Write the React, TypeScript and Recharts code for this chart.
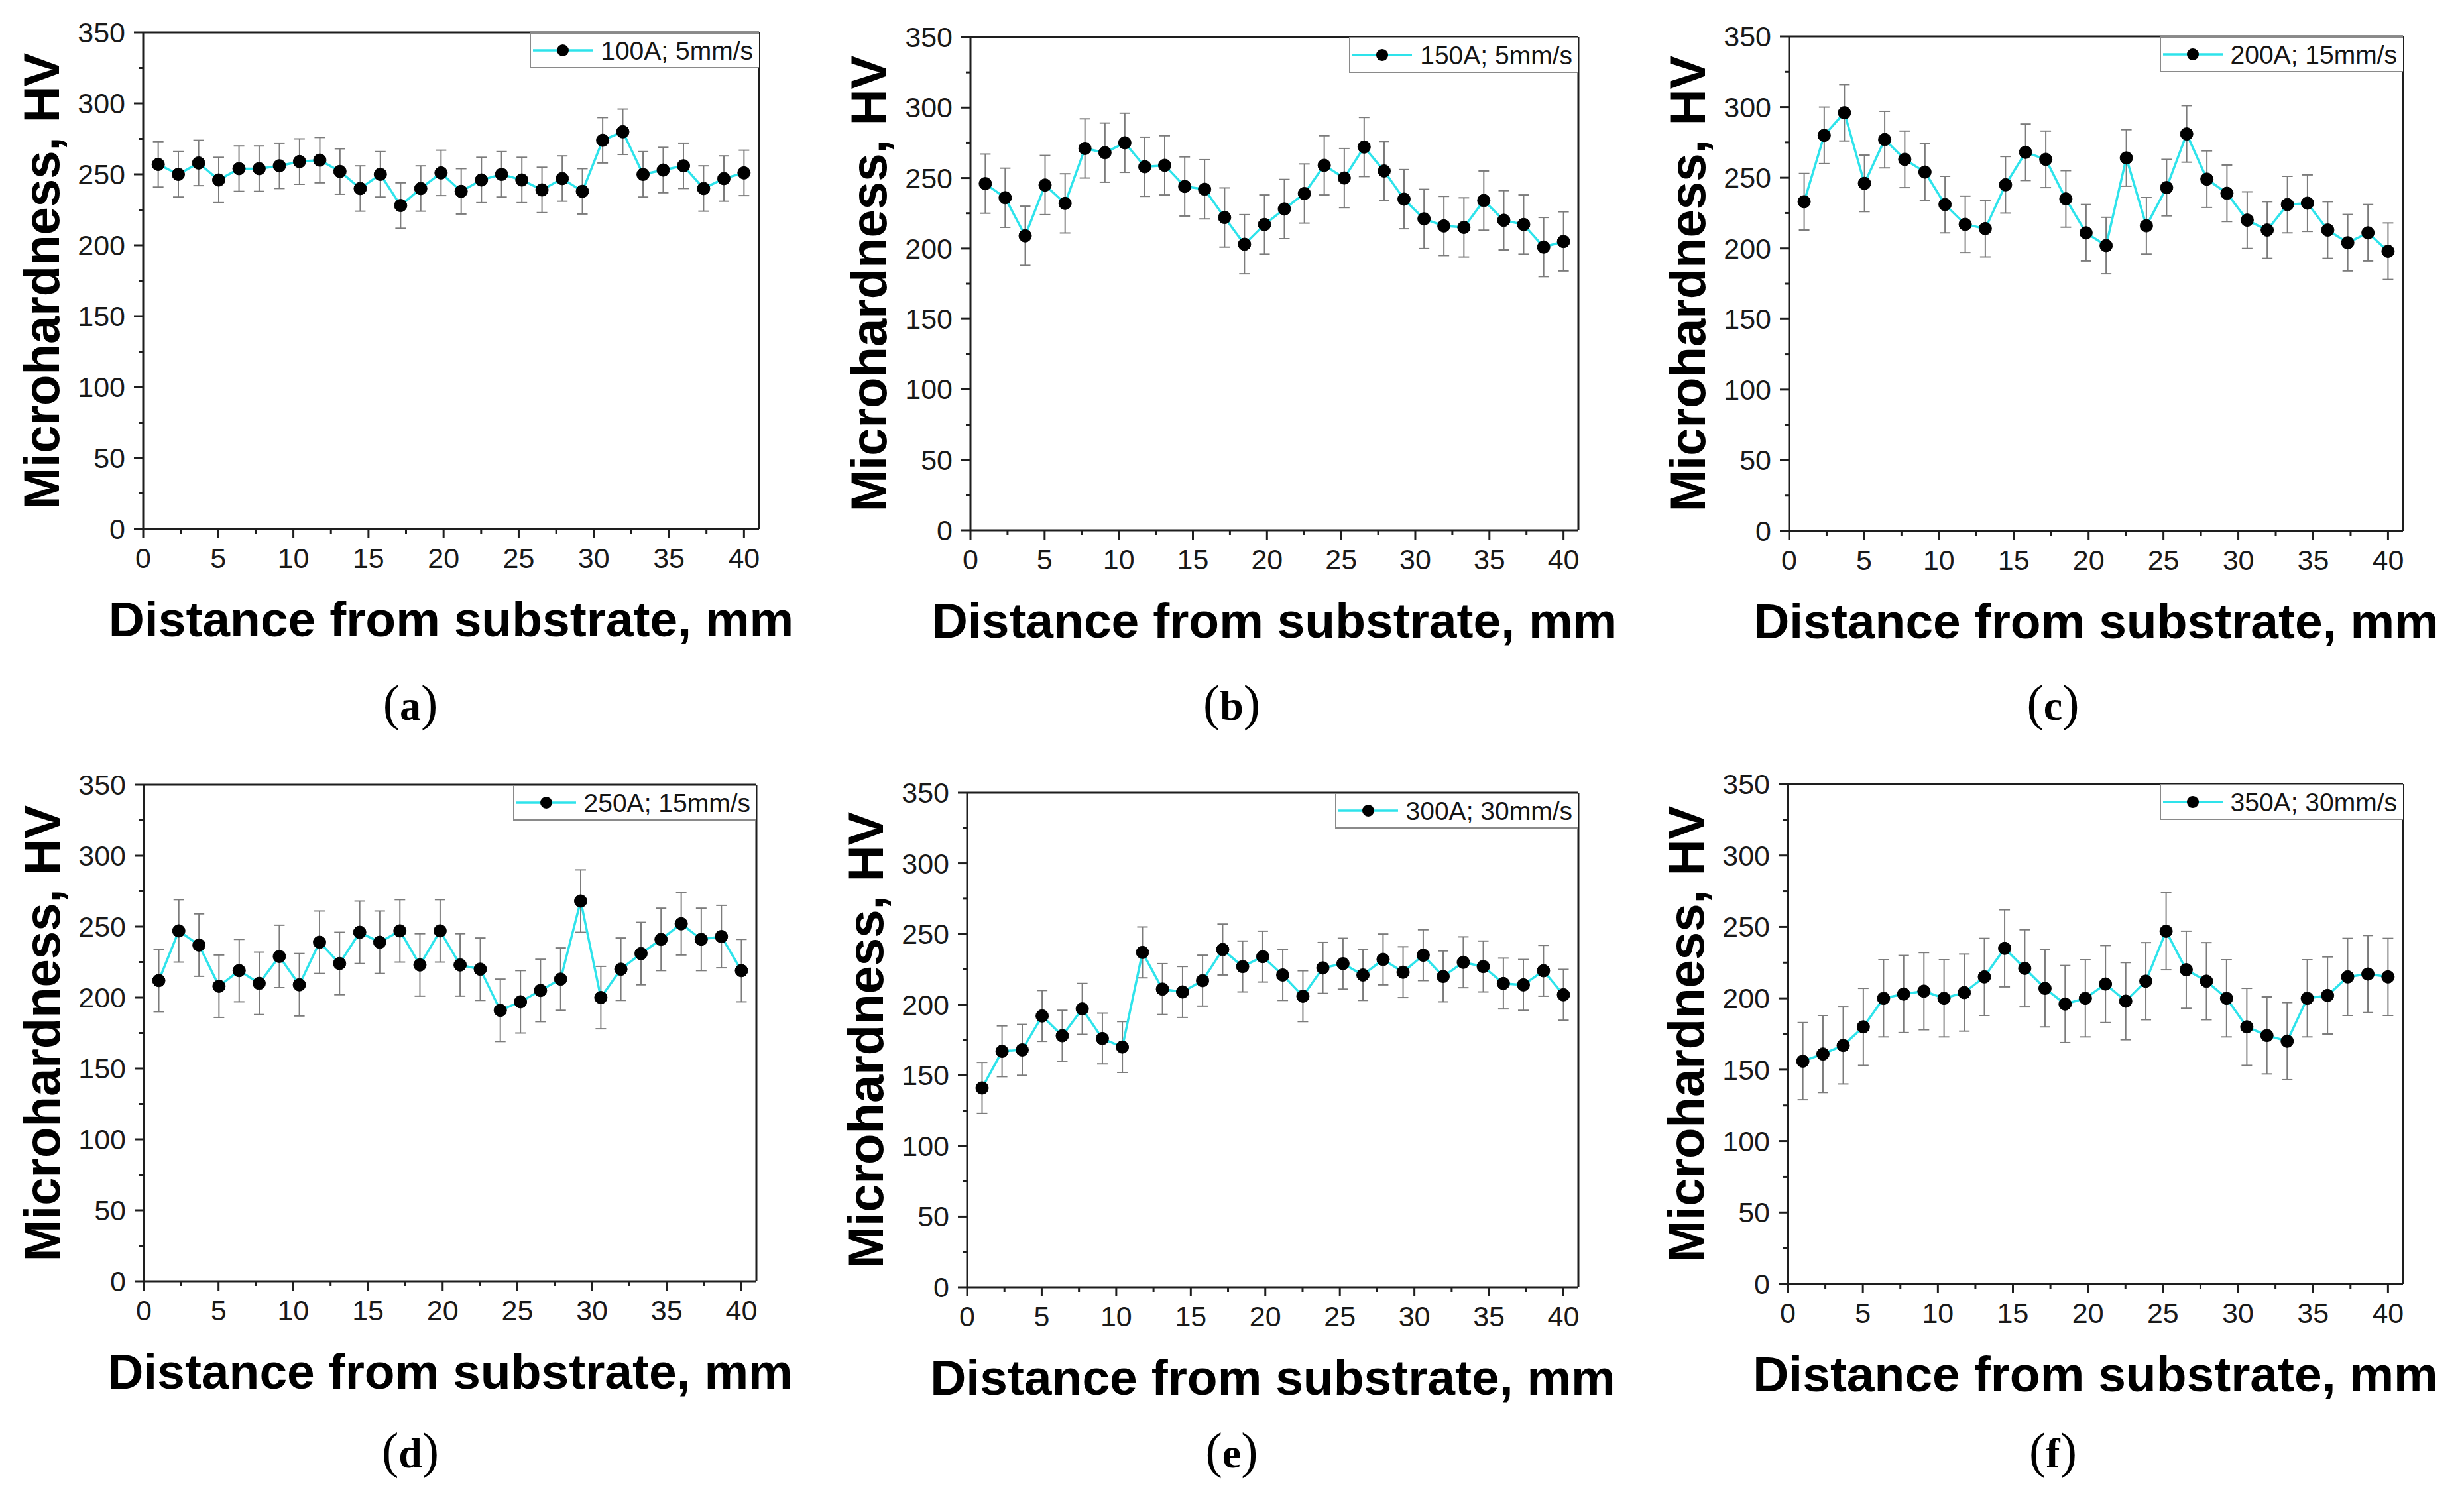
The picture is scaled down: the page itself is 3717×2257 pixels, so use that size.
import React from 'react';
import { LineChart, Line, XAxis, YAxis, ErrorBar, ReferenceLine } from 'recharts';

// distance from substrate, mm (same 30 measuring points on every sample)
const distance = [
  1, 2.34, 3.69, 5.03, 6.38, 7.72, 9.07, 10.41, 11.76, 13.1, 14.45, 15.79, 17.14, 18.48, 19.83,
  21.17, 22.52, 23.86, 25.21, 26.55, 27.9, 29.24, 30.59, 31.93, 33.28, 34.62, 35.97, 37.31, 38.66, 40,
];

// microhardness, HV
const hv100A = [257, 250, 258, 246, 254, 254, 256, 259, 260, 252, 240, 250, 228, 240, 251, 238, 246, 250, 246, 239, 247, 238, 274, 280, 250, 253, 256, 240, 247, 251];
const hv150A = [246, 236, 209, 245, 232, 271, 268, 275, 258, 259, 244, 242, 222, 203, 217, 228, 239, 259, 250, 272, 255, 235, 221, 216, 215, 234, 220, 217, 201, 205];
const hv200A = [233, 280, 296, 246, 277, 263, 254, 231, 217, 214, 245, 268, 263, 235, 211, 202, 264, 216, 243, 281, 249, 239, 220, 213, 231, 232, 213, 204, 211, 198];
const hv250A = [212, 247, 237, 208, 219, 210, 229, 209, 239, 224, 246, 239, 247, 223, 247, 223, 220, 191, 197, 205, 213, 268, 200, 220, 231, 241, 252, 241, 243, 219];
const hv300A = [141, 167, 168, 192, 178, 197, 176, 170, 237, 211, 209, 217, 239, 227, 234, 221, 206, 226, 229, 221, 232, 223, 235, 220, 230, 227, 215, 214, 224, 207];
const hv350A = [156, 161, 167, 180, 200, 203, 205, 200, 204, 215, 235, 221, 207, 196, 200, 210, 198, 212, 247, 220, 212, 200, 180, 174, 170, 200, 202, 215, 217, 215];

// error bar half-heights, HV
const err100A = 16;
const err150A = 21;
const err200A = 20;
const err250A = 22;
const err300A = 18;
const err350A = 27;

const legendNames = ['100A; 5mm/s', '150A; 5mm/s', '200A; 15mm/s', '250A; 15mm/s', '300A; 30mm/s', '350A; 30mm/s'];
const panelLetters = ['a', 'b', 'c', 'd', 'e', 'f'];

const xTicks = [0, 2.5, 5, 7.5, 10, 12.5, 15, 17.5, 20, 22.5, 25, 27.5, 30, 32.5, 35, 37.5, 40];
const yTicks = [0, 25, 50, 75, 100, 125, 150, 175, 200, 225, 250, 275, 300, 325, 350];

const series = [hv100A, hv150A, hv200A, hv250A, hv300A, hv350A];
const errors = [err100A, err150A, err200A, err250A, err300A, err350A];

// plot boxes in page pixels
const boxes = [
  { pl: 216, pr: 1145, pt: 49, pb: 798, col: 0, row: 0 },
  { pl: 1464, pr: 2381, pt: 56, pb: 800, col: 1, row: 0 },
  { pl: 2699, pr: 3625, pt: 55, pb: 801, col: 2, row: 0 },
  { pl: 217, pr: 1141, pt: 1184, pb: 1933, col: 0, row: 1 },
  { pl: 1459, pr: 2381, pt: 1196, pb: 1942, col: 1, row: 1 },
  { pl: 2697, pr: 3625, pt: 1183, pb: 1937, col: 2, row: 1 },
];
const letterBaseline = [1086, 2214];

const SANS = '"Liberation Sans", Arial, sans-serif';
const SERIF = '"Liberation Serif", "Times New Roman", serif';
const AXIS = '#1e1e1e';
const CYAN = '#2ee3eb';
const M = 150;

function XTick(props: any) {
  const { x, y, payload } = props;
  const major = payload.value % 5 === 0;
  return (
    <g>
      <line x1={x} x2={x} y1={y} y2={y + (major ? 14 : 7)} stroke={AXIS} strokeWidth={3} />
      {major && (
        <text x={x} y={y + 59} textAnchor="middle" fontFamily={SANS} fontSize={43} fill="#1a1a1a">
          {payload.value}
        </text>
      )}
    </g>
  );
}

function YTick(props: any) {
  const { x, y, payload } = props;
  const major = payload.value % 50 === 0;
  return (
    <g>
      <line x1={x - (major ? 14 : 7)} x2={x} y1={y} y2={y} stroke={AXIS} strokeWidth={3} />
      {major && (
        <text x={x - 27} y={y + 15} textAnchor="end" fontFamily={SANS} fontSize={43} fill="#1a1a1a">
          {payload.value}
        </text>
      )}
    </g>
  );
}

function Panel({ index }: { index: number }) {
  const b = boxes[index];
  const pw = b.pr - b.pl;
  const ph = b.pb - b.pt;
  const data = distance.map((x, i) => ({ x, hv: series[index][i], err: errors[index] }));
  const colCenter = b.col * 1239 + 619;

  return (
    <>
      <div style={{ position: 'absolute', left: b.pl - M, top: b.pt - M }}>
        <LineChart
          width={pw + 2 * M}
          height={ph + 2 * M}
          data={data}
          margin={{ top: M, right: M, bottom: M - 1, left: M - 1 }}
        >
          <XAxis
            type="number"
            dataKey="x"
            domain={[0, 41]}
            ticks={xTicks}
            interval={0}
            height={1}
            tickSize={0}
            tickMargin={0}
            tickLine={false}
            tick={(p: any) => <XTick {...p} />}
            axisLine={{ stroke: AXIS, strokeWidth: 3 }}
          />
          <YAxis
            type="number"
            domain={[0, 350]}
            ticks={yTicks}
            interval={0}
            width={1}
            tickSize={0}
            tickMargin={0}
            tickLine={false}
            tick={(p: any) => <YTick {...p} />}
            axisLine={{ stroke: AXIS, strokeWidth: 3 }}
          />
          <ReferenceLine y={350} stroke={AXIS} strokeWidth={3} ifOverflow="visible" />
          <ReferenceLine x={41} stroke={AXIS} strokeWidth={3} ifOverflow="visible" />
          <Line
            type="linear"
            dataKey="hv"
            stroke={CYAN}
            strokeWidth={3.5}
            dot={{ r: 9.5, fill: '#000', stroke: '#000', strokeWidth: 1 }}
            activeDot={false}
            isAnimationActive={false}
          >
            <ErrorBar dataKey="err" direction="y" width={8} stroke="#7c7c7c" strokeWidth={2} isAnimationActive={false} />
          </Line>
        </LineChart>
      </div>

      {/* legend */}
      <div
        style={{
          position: 'absolute',
          top: b.pt,
          right: 3717 - b.pr,
          height: 54,
          boxSizing: 'border-box',
          borderLeft: '2px solid #8a8a8a',
          borderBottom: '2px solid #8a8a8a',
          borderTop: '2px solid #8a8a8a',
          background: '#fff',
          display: 'flex',
          alignItems: 'center',
          paddingLeft: 3,
          paddingRight: 9,
        }}
      >
        <svg width={90} height={22}>
          <line x1={0} x2={90} y1={11} y2={11} stroke={CYAN} strokeWidth={3.5} />
          <circle cx={45} cy={11} r={9} fill="#000" />
        </svg>
        <span style={{ marginLeft: 12, fontFamily: SANS, fontSize: 39, color: '#151515', lineHeight: 1, whiteSpace: 'nowrap' }}>
          {legendNames[index]}
        </span>
      </div>

      {/* y title */}
      <div
        style={{
          position: 'absolute',
          left: b.pl - 153,
          top: (b.pt + b.pb) / 2,
          transform: 'translate(-50%, -50%) rotate(-90deg)',
          fontFamily: SANS,
          fontWeight: 'bold',
          fontSize: 76,
          lineHeight: 1,
          whiteSpace: 'nowrap',
          color: '#000',
        }}
      >
        Microhardness, HV
      </div>

      {/* x title */}
      <div
        style={{
          position: 'absolute',
          left: (b.pl + b.pr) / 2,
          top: b.pb + 162 - 0.8465 * 75,
          transform: 'translateX(-50%)',
          fontFamily: SANS,
          fontWeight: 'bold',
          fontSize: 75,
          lineHeight: 1,
          whiteSpace: 'nowrap',
          color: '#000',
        }}
      >
        Distance from substrate, mm
      </div>

      {/* panel letter */}
      <div
        style={{
          position: 'absolute',
          left: colCenter,
          top: letterBaseline[b.row] - 0.8465 * 76,
          transform: 'translateX(-50%)',
          fontFamily: SERIF,
          fontSize: 76,
          lineHeight: 1,
          whiteSpace: 'nowrap',
          color: '#000',
        }}
      >
        (<span style={{ fontWeight: 'bold', fontSize: 64 }}>{panelLetters[index]}</span>)
      </div>
    </>
  );
}

export default function App() {
  return (
    <div style={{ position: 'absolute', left: 0, top: 0, width: 3717, height: 2257, background: '#fff', overflow: 'hidden' }}>
      {boxes.map((_, i) => (
        <Panel key={i} index={i} />
      ))}
    </div>
  );
}
